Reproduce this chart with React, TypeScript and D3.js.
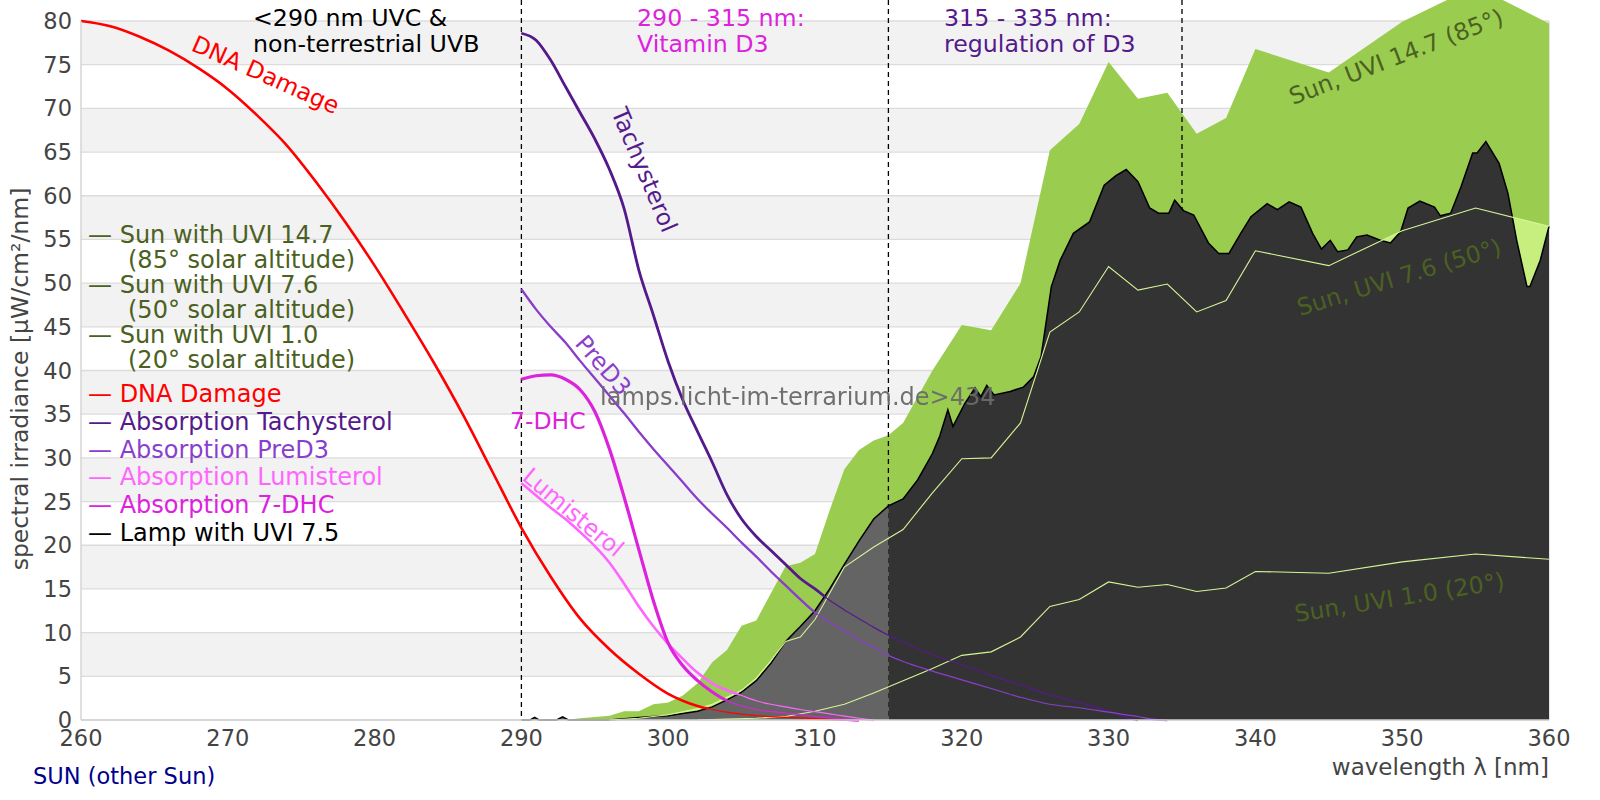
import * as d3 from "d3";

type Pt = [number, number];

// wavelength [nm], spectral irradiance / scaled absorption
const dnaDamage: Pt[] = [
  [260, 80], [262, 79.4], [264, 78.2], [266, 76.6], [268, 74.6], [270, 72.2], [272, 69.2],
  [274, 65.8], [276, 61.6], [278, 57], [280, 52], [282, 46.6], [284, 41], [286, 35],
  [288, 28.5], [290, 22], [292, 16.4], [294, 11.6], [296, 8.1], [298, 5.3], [300, 3.0],
  [302, 1.6], [304, 0.9], [306, 0.5], [308, 0.3], [310, 0.15], [312, 0.05], [313, 0],
];

const tachysterol: Pt[] = [
  [290, 78.6], [291, 77.8], [292, 75.5], [293, 72.5], [294, 69.5], [295, 66.5], [296, 63],
  [297, 58.5], [298, 51.5], [299, 46.3], [300, 41], [301, 36.6], [302, 33], [303, 29.5],
  [304, 25.8], [305, 23], [306, 21], [307, 19.4], [308, 17.8], [309, 16.2], [310, 15],
  [311, 13.7], [312, 12.6], [313, 11.6], [314, 10.6], [315, 9.7], [316, 8.9], [318, 7.5],
  [320, 6.3], [322, 5.1], [324, 4], [326, 2.9], [328, 2], [330, 1], [331, 0.4], [332, 0],
];

const preD3: Pt[] = [
  [290, 49.3], [291, 47], [292, 45], [293, 43.2], [294, 41.1], [295, 39.1], [296, 37.1],
  [297, 35.1], [298, 33], [299, 31], [300, 29.1], [301, 27.2], [302, 25.3], [303, 23.6],
  [304, 22], [305, 20.3], [306, 18.7], [307, 17], [308, 15.4], [309, 13.8], [310, 12.3],
  [311, 11.2], [312, 10.2], [313, 9.2], [314, 8.3], [315, 7.4], [316, 6.7], [318, 5.6],
  [320, 4.6], [322, 3.6], [324, 2.6], [326, 1.8], [328, 1.4], [330, 0.9], [332, 0.4],
  [333, 0.1], [334, 0],
];

const lumisterol: Pt[] = [
  [290, 27.1], [291, 25.7], [292, 24.3], [293, 23], [294, 21.5], [295, 19.9], [296, 18],
  [297, 15.6], [298, 13], [299, 10.7], [300, 8.7], [301, 7], [302, 5.4], [303, 4.2],
  [304, 3.4], [305, 2.8], [306, 2.2], [307, 1.8], [308, 1.5], [309, 1.2], [310, 0.95],
  [311, 0.7], [312, 0.45], [313, 0.2], [314, 0],
];

const dhc7: Pt[] = [
  [290, 39], [291, 39.4], [292, 39.5], [293, 39.0], [294, 37.8], [295, 35.3], [296, 31.0],
  [297, 25.5], [298, 19.5], [299, 13.6], [300, 8.8], [301, 6.2], [302, 4.5], [303, 3.2],
  [304, 2.2], [305, 1.6], [306, 1.2], [307, 0.95], [308, 0.8], [309, 0.6], [310, 0.4],
  [311, 0.25], [312, 0.1], [313, 0],
];

const sunUvi147: Pt[] = [
  [293, 0], [294, 0.2], [296, 0.5], [297, 1.0], [298, 1.0], [299, 1.8], [300, 2.0],
  [301, 2.8], [302, 4.2], [303, 6.6], [304, 8.0], [305, 10.8], [306, 11.4], [307, 14.5],
  [308, 17.6], [309, 18.0], [310, 19.0], [311, 24], [312, 28.7], [313, 30.9], [314, 32.0],
  [315, 32.6], [316, 34.0], [318, 40.0], [320, 45.2], [322, 44.6], [324, 50.0], [326, 65.2],
  [328, 68.2], [330, 75.3], [332, 71.1], [334, 71.8], [336, 67.1], [338, 68.9], [340, 76.8],
  [345, 74.1], [350, 79.9], [355, 84], [360, 79.7],
];

const sunUvi76: Pt[] = [
  [296, 0], [298, 0.2], [300, 0.6], [302, 1.3], [303, 1.8], [304, 2.6], [305, 3.4],
  [306, 4.8], [307, 6.8], [308, 9.0], [309, 9.5], [310, 11.5], [312, 17.5], [314, 19.8],
  [316, 21.8], [318, 26.0], [320, 29.9], [322, 30.0], [324, 34.0], [326, 44.4], [328, 46.7],
  [330, 51.9], [332, 49.2], [334, 49.9], [336, 46.7], [338, 48.0], [340, 53.7], [345, 52.0],
  [350, 56.0], [355, 58.6], [360, 56.5],
];

const sunUvi10: Pt[] = [
  [302, 0], [304, 0.1], [306, 0.2], [308, 0.4], [310, 1.0], [312, 1.8], [314, 3.1],
  [316, 4.5], [318, 5.9], [320, 7.4], [322, 7.8], [324, 9.5], [326, 13.0], [328, 13.8],
  [330, 15.8], [332, 15.2], [334, 15.5], [336, 14.7], [338, 15.1], [340, 17.0], [345, 16.8],
  [350, 18.1], [355, 19.0], [360, 18.4],
];

const lampUvi75: Pt[] = [
  [290, 0], [290.6, 0], [290.9, 0.3], [291.2, 0], [292.4, 0], [292.8, 0.35], [293.2, 0],
  [296, 0], [297, 0.15], [298, 0.3], [299, 0.4], [300, 0.5], [301, 0.75], [302, 1.0],
  [303, 1.5], [304, 2.3], [305, 3.2], [306, 4.5], [307, 6.5], [308, 9.0], [309, 10.7],
  [310, 12.5], [311, 15.0], [312, 17.8], [313, 20.5], [314, 23.0], [315, 24.5], [316, 25.3],
  [317, 27.5], [318, 30.5], [318.5, 32.5], [319.05, 35.5], [319.4, 33.6], [320.2, 36.2],
  [320.9, 38.0], [321.3, 37.0], [321.7, 38.3], [322.2, 37.2], [323.3, 37.6], [324.2, 38.1],
  [324.9, 39.3], [325.4, 41.6], [326.1, 49.6], [326.7, 52.6], [327.6, 55.7], [328.7, 57.0],
  [329.7, 61.2], [330.5, 62.3], [331.2, 63.0], [332.0, 61.6], [332.8, 58.6], [333.4, 58.0],
  [334.1, 58.0], [334.5, 59.5], [335.1, 58.3], [335.8, 57.8], [336.8, 54.6], [337.5, 53.4],
  [338.2, 53.4], [339.0, 55.7], [339.7, 57.6], [340.8, 59.1], [341.5, 58.4], [342.3, 59.3],
  [343.1, 58.7], [343.9, 55.7], [344.5, 53.9], [345.1, 54.9], [345.6, 53.6], [346.3, 53.8],
  [346.9, 55.3], [347.6, 55.5], [348.5, 54.9], [349.2, 54.6], [349.9, 55.9], [350.4, 58.6],
  [351.2, 59.4], [352.2, 58.7], [352.6, 57.7], [353.3, 58.0], [354.0, 61.0], [354.8, 64.9],
  [355.1, 64.9], [355.7, 66.2], [356.6, 63.7], [357.2, 60.3], [357.8, 54.9], [358.5, 49.6],
  [358.7, 49.6], [359.4, 52.6], [360, 56.5],
];

const xTicks = [260, 270, 280, 290, 300, 310, 320, 330, 340, 350, 360];
const yTicks = d3.range(0, 81, 5);
const bandMarkers = [290, 315, 335];

const legendSun = [
  { label: "Sun with UVI 14.7", sub: "(85° solar altitude)" },
  { label: "Sun with UVI 7.6", sub: "(50° solar altitude)" },
  { label: "Sun with UVI 1.0", sub: "(20° solar altitude)" },
];
const legendLines = [
  { label: "DNA Damage", color: "#ff0000" },
  { label: "Absorption Tachysterol", color: "#551a8b" },
  { label: "Absorption PreD3", color: "#8a3fcc" },
  { label: "Absorption Lumisterol", color: "#ff66ff" },
  { label: "Absorption 7-DHC", color: "#dd22dd" },
  { label: "Lamp with UVI 7.5", color: "#000000" },
];

const FONT = "DejaVu Sans, Verdana, sans-serif";
const SUN_TEXT = "#4b6122";
const GREEN = "#9acc50";
const LIGHT_GREEN = "#c6ef80";
const SUN_LINE = "#d6f596";

export default function App() {
  const x = d3.scaleLinear().domain([260, 360]).range([81, 1549]);
  const y = d3.scaleLinear().domain([0, 80]).range([720, 21]);

  const line = d3
    .line<Pt>()
    .x((d) => x(d[0]))
    .y((d) => y(d[1]))
    .curve(d3.curveMonotoneX);
  const rawLine = d3
    .line<Pt>()
    .x((d) => x(d[0]))
    .y((d) => y(d[1]));
  const area = d3
    .area<Pt>()
    .x((d) => x(d[0]))
    .y0(y(0))
    .y1((d) => y(d[1]));

  const lampPath = area(lampUvi75) ?? "";

  const curves = [
    { data: dnaDamage, color: "#ff0000", width: 2.6 },
    { data: tachysterol, color: "#551a8b", width: 2.8 },
    { data: preD3, color: "#8a3fcc", width: 2.3 },
    { data: lumisterol, color: "#ff66ff", width: 2.6 },
    { data: dhc7, color: "#dd22dd", width: 3.2 },
  ];

  return (
    <svg
      width={1600}
      height={800}
      style={{ position: "absolute", left: 0, top: 0, background: "#fff" }}
      fontFamily={FONT}
    >
      <defs>
        <clipPath id="vitD">
          <rect x={0} y={0} width={x(315)} height={800} />
        </clipPath>
        <clipPath id="afterVitD">
          <rect x={x(315)} y={0} width={1600} height={800} />
        </clipPath>
        <mask id="offLamp" maskUnits="userSpaceOnUse" x={0} y={0} width={1600} height={800}>
          <rect x={0} y={0} width={1600} height={800} fill="#fff" />
          <path d={lampPath} fill="#000" />
        </mask>
      </defs>

      {/* grid bands and lines */}
      {yTicks
        .filter((v) => v % 10 === 5)
        .map((v) => (
          <rect
            key={`band-${v}`}
            x={x(260)}
            y={y(v + 5)}
            width={x(360) - x(260)}
            height={y(v) - y(v + 5)}
            fill="#f2f2f2"
          />
        ))}
      {yTicks.map((v) => (
        <line key={`grid-${v}`} x1={x(260)} x2={x(360)} y1={y(v)} y2={y(v)} stroke="#dcdcdc" strokeWidth={1.3} />
      ))}
      <line x1={x(360)} x2={x(360)} y1={y(80)} y2={y(0)} stroke="#d4d4d4" strokeWidth={1.3} />

      {/* sun spectra */}
      <path d={area(sunUvi147) ?? ""} fill={GREEN} />
      <path d={area(sunUvi76) ?? ""} fill={LIGHT_GREEN} />

      {bandMarkers.map((nm) => (
        <line
          key={`mark-${nm}`}
          x1={x(nm)}
          x2={x(nm)}
          y1={0}
          y2={y(0)}
          stroke="#000"
          strokeWidth={1.3}
          strokeDasharray="5,4"
        />
      ))}

      {/* lamp */}
      <path d={lampPath} fill="#646464" clipPath="url(#vitD)" />
      <path d={lampPath} fill="#333333" clipPath="url(#afterVitD)" />
      <path d={rawLine(lampUvi75) ?? ""} fill="none" stroke="#000" strokeWidth={1.5} />

      <path d={rawLine(sunUvi76) ?? ""} fill="none" stroke={SUN_LINE} strokeWidth={1.1} />
      <path d={rawLine(sunUvi10) ?? ""} fill="none" stroke={SUN_LINE} strokeWidth={1.1} />

      {/* absorption curves, thinner where they run inside the lamp area */}
      {curves.map((c, i) => (
        <g key={`curve-${i}`}>
          <path d={line(c.data) ?? ""} fill="none" stroke={c.color} strokeWidth={c.width} mask="url(#offLamp)" />
          <path d={line(c.data) ?? ""} fill="none" stroke={c.color} strokeWidth={1.2} />
        </g>
      ))}

      {/* axes */}
      <line x1={x(260)} x2={x(260)} y1={y(80)} y2={y(0)} stroke="#d0d0d0" strokeWidth={1.3} />
      <line x1={x(260)} x2={x(360)} y1={y(0)} y2={y(0)} stroke="#d0d0d0" strokeWidth={1.3} />
      {yTicks.map((v) => (
        <text key={`yt-${v}`} x={72} y={y(v) + 8} textAnchor="end" fontSize={22.5} fill="#444">
          {v}
        </text>
      ))}
      {xTicks.map((v) => (
        <text key={`xt-${v}`} x={x(v)} y={746} textAnchor="middle" fontSize={22.5} fill="#444">
          {v}
        </text>
      ))}
      <text x={1549} y={775} textAnchor="end" fontSize={23} fill="#444">
        wavelength λ [nm]
      </text>
      <text transform="translate(28, 379) rotate(-90)" textAnchor="middle" fontSize={23.5} fill="#444">
        spectral irradiance [µW/cm²/nm]
      </text>
      <text x={33} y={784} fontSize={22.5} fill="#00008b">
        SUN (other Sun)
      </text>

      {/* range annotations */}
      <g fontSize={23.7}>
        <text x={253} y={26} fill="#000">&lt;290 nm UVC &amp;</text>
        <text x={253} y={52} fill="#000">non-terrestrial UVB</text>
        <text x={637} y={26} fill="#dd22dd">290 - 315 nm:</text>
        <text x={637} y={52} fill="#dd22dd">Vitamin D3</text>
        <text x={944} y={26} fill="#551a8b">315 - 335 nm:</text>
        <text x={944} y={52} fill="#551a8b">regulation of D3</text>
      </g>

      {/* curve labels */}
      <g fontSize={23.5}>
        <text transform="translate(190, 50) rotate(24)" fill="#ff0000">DNA Damage</text>
        <text transform="translate(611, 112) rotate(67)" fill="#551a8b">Tachysterol</text>
        <text transform="translate(574, 344) rotate(49)" fill="#8a3fcc">PreD3</text>
        <text x={510} y={429} fill="#dd22dd">7-DHC</text>
        <text transform="translate(521, 479) rotate(40)" fill="#ff66ff">Lumisterol</text>
        <text transform="translate(1293, 105) rotate(-21)" fill={SUN_TEXT}>Sun, UVI 14.7 (85°)</text>
        <text transform="translate(1300, 316) rotate(-17)" fill={SUN_TEXT}>Sun, UVI 7.6 (50°)</text>
        <text transform="translate(1296, 622) rotate(-9)" fill={SUN_TEXT}>Sun, UVI 1.0 (20°)</text>
      </g>

      {/* legend */}
      <g fontSize={24}>
        {legendSun.map((l, i) => (
          <g key={`ls-${i}`}>
            <text x={88} y={243 + i * 50} fill={SUN_TEXT}>— {l.label}</text>
            <text x={128} y={268 + i * 50} fill={SUN_TEXT}>{l.sub}</text>
          </g>
        ))}
        {legendLines.map((l, i) => (
          <text key={`ll-${i}`} x={88} y={402 + i * 27.8} fill={l.color}>
            — {l.label}
          </text>
        ))}
      </g>

      <text x={600} y={405} fontSize={24} fill="#6a6a6a" opacity={0.95}>
        lamps.licht-im-terrarium.de&gt;434
      </text>
    </svg>
  );
}
